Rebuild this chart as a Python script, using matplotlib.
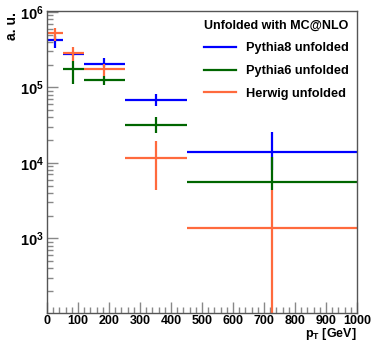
import matplotlib
matplotlib.use("Agg")
import matplotlib.pyplot as plt
from matplotlib.ticker import LogLocator, FuncFormatter, MultipleLocator
import numpy as np

plt.rcParams['font.family'] = ['Liberation Sans', 'DejaVu Sans']
plt.rcParams['mathtext.fontset'] = 'custom'
plt.rcParams['mathtext.rm'] = 'Liberation Sans'
plt.rcParams['mathtext.bf'] = 'Liberation Sans:bold'

# Data
bin_edges = [0, 50, 120, 250, 450, 1000]
x_centers = [25, 84, 184, 350, 725]

series_names = ["Pythia8 unfolded", "Pythia6 unfolded", "Herwig unfolded"]
colors = ["#0000ff", "#006600", "#ff6a3d"]

pythia8_val = [4.27e5, 2.76e5, 2.07e5, 6.9e4, 1.39e4]
pythia8_hi = [4.82e5, 2.95e5, 2.45e5, 8.2e4, 2.55e4]
pythia8_lo = [3.37e5, 2.6e5, 1.85e5, 5.7e4, 8.0e3]

pythia6_val = [None, 1.75e5, 1.25e5, 3.18e4, 5.55e3]
pythia6_hi = [None, 2.25e5, 1.43e5, 4.02e4, 1.2e4]
pythia6_lo = [None, 1.11e5, 1.08e5, 2.52e4, 4.3e3]

herwig_val = [5.23e5, 2.90e5, 1.75e5, 1.17e4, 1.37e3]
herwig_hi = [6.09e5, 3.41e5, 2.04e5, 1.92e4, 4.3e3]
herwig_lo = [4.14e5, 2.25e5, 1.43e5, 4.3e3, 1.0]

legend_title = "Unfolded with MC@NLO"
x_label = r"p$_{\mathregular{T}}$ [GeV]"
y_label = "a. u."

fig = plt.figure(figsize=(3.74, 3.42), dpi=100)
ax = fig.add_axes([47/374, 1-313/342, 310/374, 302/342])
ax.set_yscale('log', nonpositive='clip')
ax.set_xlim(0, 1000)
ax.set_ylim(102, 1.03e6)

all_series = [(pythia8_val, pythia8_hi, pythia8_lo),
              (pythia6_val, pythia6_hi, pythia6_lo),
              (herwig_val, herwig_hi, herwig_lo)]
handles = []
for (vals, his, los), c, name in zip(all_series, colors, series_names):
    for i, v in enumerate(vals):
        if v is None:
            continue
        ax.hlines(v, bin_edges[i], bin_edges[i+1], color=c, lw=1.6)
        ax.vlines(x_centers[i], los[i], his[i], color=c, lw=1.6)
    h, = ax.plot([], [], color=c, lw=1.6, label=name)
    handles.append(h)

leg = ax.legend(handles=handles, title=legend_title, loc='upper right',
                frameon=False, fontsize=9.2, title_fontsize=9.0,
                handlelength=2.5, handletextpad=0.8, labelspacing=0.85,
                bbox_to_anchor=(1.0, 1.0), borderaxespad=0.25)
for t in leg.get_texts():
    t.set_fontweight('bold')
leg.get_title().set_fontweight('bold')

# ticks
ax.xaxis.set_major_locator(MultipleLocator(100))
ax.xaxis.set_minor_locator(MultipleLocator(20))
ax.yaxis.set_major_locator(LogLocator(base=10, numticks=10))
ax.yaxis.set_minor_locator(LogLocator(base=10, subs=np.arange(2, 10), numticks=20))
ax.yaxis.set_major_formatter(FuncFormatter(lambda v, p: r'$\mathbf{10^{%d}}$' % round(np.log10(v))))
ax.yaxis.set_minor_formatter(FuncFormatter(lambda v, p: ''))
ax.xaxis.set_major_formatter(FuncFormatter(lambda v, p: '%d' % v))
ax.tick_params(which='both', direction='in', top=False, right=False, color='#888888')
ax.tick_params(axis='y', which='major', labelsize=10.5, pad=2)
ax.tick_params(axis='x', which='major', labelsize=9, pad=1.5)
ax.tick_params(which='major', length=8, width=1)
ax.tick_params(which='minor', length=4, width=1)
for lab in ax.get_xticklabels():
    lab.set_fontweight('bold')
for s in ax.spines.values():
    s.set_color('#555555')
    s.set_linewidth(1.0)

fig.text(357/374, 1-337.5/342, x_label, ha='right', va='baseline', fontsize=9, fontweight='bold')
fig.text(12/374, 1-12/342, y_label, ha='center', va='top', rotation=90, fontsize=10, fontweight='bold')

fig.savefig("out.png", dpi=100)
